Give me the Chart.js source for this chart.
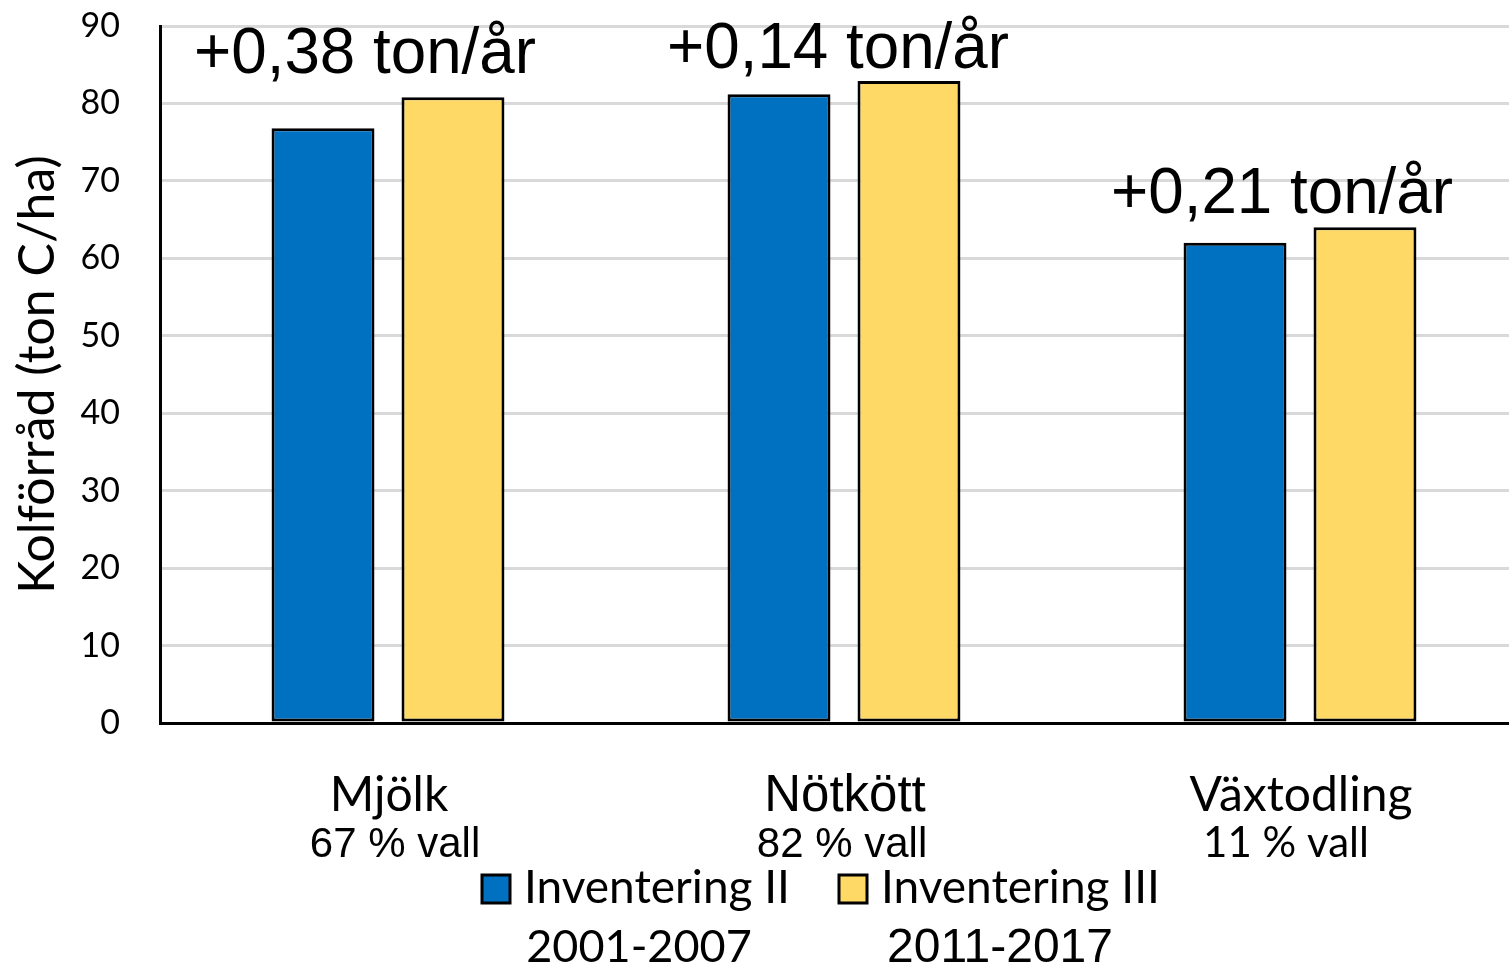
<!DOCTYPE html>
<html>
<head>
<meta charset="utf-8">
<script src="https://cdn.jsdelivr.net/npm/chart.js@4.4.1/dist/chart.umd.min.js"></script>
<style>
  html, body { margin: 0; padding: 0; background: #fff; overflow: hidden; }
  #wrap { width: 1509px; height: 967px; overflow: hidden; }
  canvas { display: block; }
</style>
</head>
<body>
<div id="wrap"><canvas id="c" width="1528" height="967"></canvas></div>
<script>
// Kolförråd per gårdstyp, två inventeringar
const categories = ['Mjölk', 'Nötkött', 'Växtodling'];
const vallShare = ['67 % vall', '82 % vall', '11 % vall'];
const inventeringII = [76.8, 81.2, 62.0];
const inventeringIII = [80.8, 82.9, 64.0];
const seriesNames = ['Inventering II', 'Inventering III'];
const seriesPeriods = ['2001-2007', '2011-2017'];
const changeLabels = ['+0,38 ton/år', '+0,14 ton/år', '+0,21 ton/år'];
const yTickValues = [0, 10, 20, 30, 40, 50, 60, 70, 80, 90];

const BLUE = '#0070C0';
const YELLOW = '#FFD966';
const ARIAL = '"Liberation Sans", Arial, sans-serif';
const CALIBRI = 'Lato, "Open Sans", sans-serif';

// text placement tweaks (pixels) for the labels drawn by the plugin below
const changeShift = [-23, -6, -18];
const changeLift = [24, 13, 14];
const nameStyle = [
  { font: '48px ' + CALIBRI, dx: 1, max: 124 },
  { font: '51px ' + ARIAL, dx: 1, max: 168 },
  { font: '48px ' + CALIBRI, dx: 1, max: 232 }
];
const shareStyle = [
  { font: '42px ' + ARIAL, dx: 7, max: 172 },
  { font: '42px ' + ARIAL, dx: -2, max: 172 },
  { font: '42px ' + CALIBRI, dx: -14, max: 168 }
];

const annotations = {
  id: 'annotations',
  afterDraw(chart) {
    const { ctx, scales: { x, y } } = chart;
    ctx.save();
    ctx.fillStyle = '#000';
    ctx.textAlign = 'center';
    ctx.textBaseline = 'alphabetic';

    categories.forEach((name, i) => {
      const cx = x.getPixelForValue(i);
      const topVal = Math.max(inventeringII[i], inventeringIII[i]);
      ctx.font = '64px ' + ARIAL;
      ctx.fillText(changeLabels[i], cx + changeShift[i], y.getPixelForValue(topVal) - changeLift[i], 342);

      ctx.font = nameStyle[i].font;
      ctx.fillText(name, cx + nameStyle[i].dx, y.bottom + 88, nameStyle[i].max);
      ctx.font = shareStyle[i].font;
      ctx.fillText(vallShare[i], cx + shareStyle[i].dx, y.bottom + 134, shareStyle[i].max);
    });

    // legend: coloured box, series name, and period underneath
    const legendX = [482, 839];
    const boxSize = 28;
    const rowBase = y.bottom + 180;
    chart.data.datasets.forEach((ds, i) => {
      const bx = legendX[i];
      ctx.fillStyle = ds.backgroundColor;
      ctx.fillRect(bx, rowBase - boxSize, boxSize, boxSize);
      ctx.lineWidth = 3;
      ctx.strokeStyle = '#000';
      ctx.strokeRect(bx, rowBase - boxSize, boxSize, boxSize);

      ctx.fillStyle = '#000';
      ctx.textAlign = 'left';
      ctx.font = '46px ' + CALIBRI;
      ctx.fillText(seriesNames[i], bx + 42, rowBase, i === 0 ? 266 : 280);

      ctx.textAlign = 'center';
      ctx.font = i === 0 ? '45px ' + CALIBRI : '48px ' + ARIAL;
      ctx.fillText(seriesPeriods[i], bx + (i === 0 ? 157 : 161), rowBase + 59, 226);
    });
    ctx.restore();
  }
};

new Chart(document.getElementById('c'), {
  type: 'bar',
  data: {
    labels: categories,
    datasets: [
      {
        label: seriesNames[0],
        data: inventeringII,
        backgroundColor: BLUE,
        borderColor: '#000',
        borderWidth: 3,
        borderSkipped: false
      },
      {
        label: seriesNames[1],
        data: inventeringIII,
        backgroundColor: YELLOW,
        borderColor: '#000',
        borderWidth: 3,
        borderSkipped: false
      }
    ]
  },
  options: {
    responsive: false,
    devicePixelRatio: 1,
    animation: false,
    datasets: {
      bar: { categoryPercentage: 0.57, barPercentage: 0.792 }
    },
    layout: { padding: { top: 26, left: 0, right: 0, bottom: 0 } },
    plugins: {
      legend: { display: false },
      tooltip: { enabled: false },
      title: { display: false }
    },
    scales: {
      x: {
        offset: true,
        ticks: { display: false },
        grid: { display: false },
        border: { display: true, color: '#000', width: 3 },
        afterFit(scale) { scale.height = 244; }
      },
      y: {
        min: 0,
        max: 90,
        afterBuildTicks(scale) { scale.ticks = yTickValues.map(v => ({ value: v })); },
        ticks: {
          color: '#000',
          font: { family: 'Lato', size: 34 },
          padding: 40
        },
        grid: { color: '#d9d9d9', lineWidth: 3, drawTicks: false },
        border: { display: true, color: '#000', width: 3 },
        title: {
          display: true,
          text: 'Kolförråd (ton C/ha)',
          color: '#000',
          font: { family: 'Lato', size: 50 },
          padding: { top: 8, bottom: 0 }
        },
        afterFit(scale) {
          scale.width = 160;
          scale.paddingTop = 0;
          scale.paddingBottom = 0;
        }
      }
    }
  },
  plugins: [annotations]
});
</script>
</body>
</html>
